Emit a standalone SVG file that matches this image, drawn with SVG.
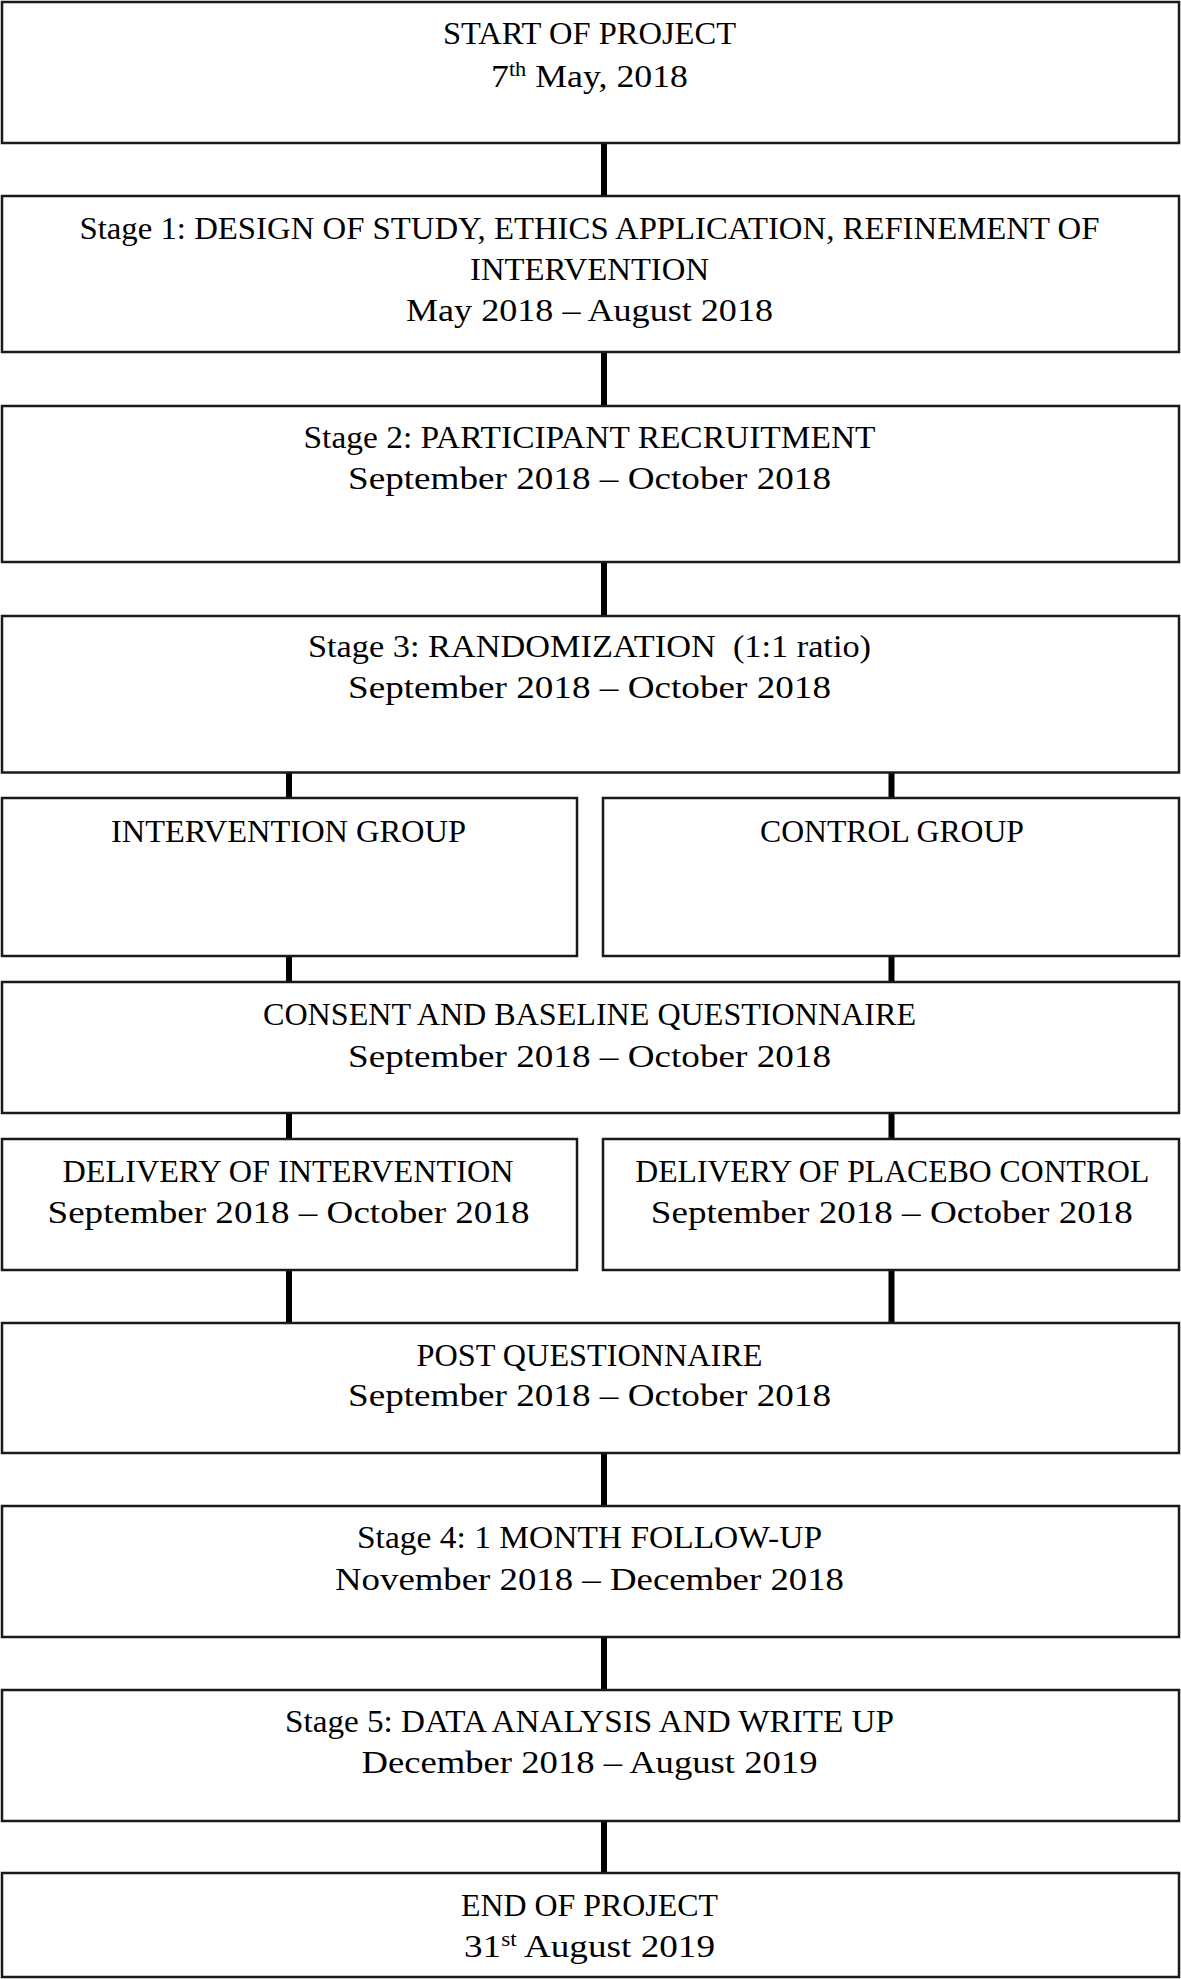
<svg xmlns="http://www.w3.org/2000/svg" width="1181" height="1979" viewBox="0 0 1181 1979">
<style>
.box{fill:#fff;stroke:#1a1a1a;stroke-width:2.5}
.con{stroke:#000;stroke-width:6;fill:none}
text{font-family:"Liberation Serif","Times New Roman",serif;font-size:32px;fill:#000;text-anchor:middle}
.sup{font-size:20px}
</style>
<rect width="1181" height="1979" fill="#fff"/>
<g id="connectors">
<line class="con" x1="604" y1="143" x2="604" y2="196"/>
<line class="con" x1="604" y1="352" x2="604" y2="406"/>
<line class="con" x1="604" y1="562" x2="604" y2="616"/>
<line class="con" x1="289" y1="772" x2="289" y2="798"/>
<line class="con" x1="891.5" y1="772" x2="891.5" y2="798"/>
<line class="con" x1="289" y1="956" x2="289" y2="982"/>
<line class="con" x1="891.5" y1="956" x2="891.5" y2="982"/>
<line class="con" x1="289" y1="1113" x2="289" y2="1139"/>
<line class="con" x1="891.5" y1="1113" x2="891.5" y2="1139"/>
<line class="con" x1="289" y1="1270" x2="289" y2="1323"/>
<line class="con" x1="891.5" y1="1270" x2="891.5" y2="1323"/>
<line class="con" x1="604" y1="1453" x2="604" y2="1506"/>
<line class="con" x1="604" y1="1637" x2="604" y2="1690"/>
<line class="con" x1="604" y1="1821" x2="604" y2="1873"/>
</g>
<g id="start">
<rect class="box" x="2" y="2" width="1177" height="141"/>
<text x="589.5" y="44" textLength="293" lengthAdjust="spacingAndGlyphs">START OF PROJECT</text>
<text x="589.5" y="87" textLength="197" lengthAdjust="spacingAndGlyphs">7<tspan class="sup" baseline-shift="super">th</tspan> May, 2018</text>
</g>
<g id="stage1">
<rect class="box" x="2" y="196" width="1177" height="156"/>
<text x="589.5" y="239" textLength="1020" lengthAdjust="spacingAndGlyphs">Stage 1: DESIGN OF STUDY, ETHICS APPLICATION, REFINEMENT OF</text>
<text x="589.5" y="280" textLength="239" lengthAdjust="spacingAndGlyphs">INTERVENTION</text>
<text x="589.5" y="321" textLength="367" lengthAdjust="spacingAndGlyphs">May 2018 – August 2018</text>
</g>
<g id="stage2">
<rect class="box" x="2" y="406" width="1177" height="156"/>
<text x="589.5" y="448" textLength="572" lengthAdjust="spacingAndGlyphs">Stage 2: PARTICIPANT RECRUITMENT</text>
<text x="589.5" y="489" textLength="483" lengthAdjust="spacingAndGlyphs">September 2018 – October 2018</text>
</g>
<g id="stage3">
<rect class="box" x="2" y="616" width="1177" height="156.5"/>
<text x="589.5" y="657" textLength="563" lengthAdjust="spacingAndGlyphs" xml:space="preserve">Stage 3: RANDOMIZATION  (1:1 ratio)</text>
<text x="589.5" y="698" textLength="483" lengthAdjust="spacingAndGlyphs">September 2018 – October 2018</text>
</g>
<g id="intervention-group">
<rect class="box" x="2" y="798" width="575" height="158"/>
<text x="288.5" y="842" textLength="355" lengthAdjust="spacingAndGlyphs">INTERVENTION GROUP</text>
</g>
<g id="control-group">
<rect class="box" x="603" y="798" width="576" height="158"/>
<text x="892" y="842" textLength="264" lengthAdjust="spacingAndGlyphs">CONTROL GROUP</text>
</g>
<g id="consent">
<rect class="box" x="2" y="982" width="1177" height="131"/>
<text x="589.5" y="1025" textLength="653" lengthAdjust="spacingAndGlyphs">CONSENT AND BASELINE QUESTIONNAIRE</text>
<text x="589.5" y="1067" textLength="483" lengthAdjust="spacingAndGlyphs">September 2018 – October 2018</text>
</g>
<g id="delivery-intervention">
<rect class="box" x="2" y="1139" width="575" height="131"/>
<text x="288" y="1182" textLength="451" lengthAdjust="spacingAndGlyphs">DELIVERY OF INTERVENTION</text>
<text x="288.5" y="1223" textLength="482" lengthAdjust="spacingAndGlyphs">September 2018 – October 2018</text>
</g>
<g id="delivery-placebo">
<rect class="box" x="603" y="1139" width="576" height="131"/>
<text x="892.3" y="1182" textLength="514" lengthAdjust="spacingAndGlyphs">DELIVERY OF PLACEBO CONTROL</text>
<text x="891.8" y="1223" textLength="482" lengthAdjust="spacingAndGlyphs">September 2018 – October 2018</text>
</g>
<g id="post">
<rect class="box" x="2" y="1323" width="1177" height="130"/>
<text x="589.5" y="1366" textLength="346" lengthAdjust="spacingAndGlyphs">POST QUESTIONNAIRE</text>
<text x="589.5" y="1406" textLength="483" lengthAdjust="spacingAndGlyphs">September 2018 – October 2018</text>
</g>
<g id="stage4">
<rect class="box" x="2" y="1506" width="1177" height="131"/>
<text x="589.5" y="1548" textLength="465" lengthAdjust="spacingAndGlyphs">Stage 4: 1 MONTH FOLLOW-UP</text>
<text x="589.5" y="1590" textLength="509" lengthAdjust="spacingAndGlyphs">November 2018 – December 2018</text>
</g>
<g id="stage5">
<rect class="box" x="2" y="1690" width="1177" height="131"/>
<text x="589.5" y="1732" textLength="609" lengthAdjust="spacingAndGlyphs">Stage 5: DATA ANALYSIS AND WRITE UP</text>
<text x="589.5" y="1773" textLength="456" lengthAdjust="spacingAndGlyphs">December 2018 – August 2019</text>
</g>
<g id="end">
<rect class="box" x="2" y="1873" width="1177" height="104"/>
<text x="589.5" y="1916" textLength="257" lengthAdjust="spacingAndGlyphs">END OF PROJECT</text>
<text x="589.5" y="1957" textLength="251" lengthAdjust="spacingAndGlyphs">31<tspan class="sup" baseline-shift="super">st</tspan> August 2019</text>
</g>
</svg>
